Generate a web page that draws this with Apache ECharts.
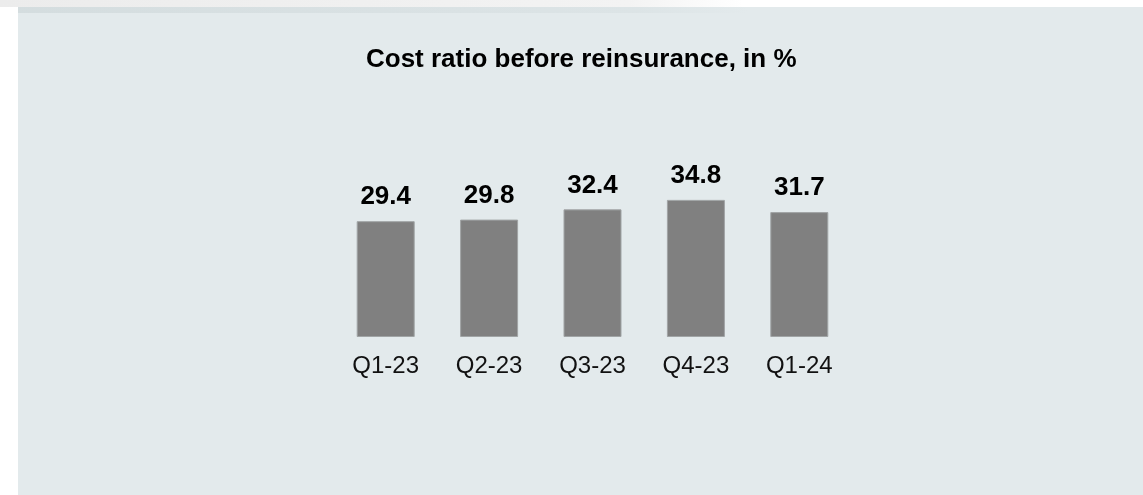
<!DOCTYPE html>
<html>
<head>
<meta charset="utf-8">
<title>Cost ratio before reinsurance</title>
<script src="https://cdn.jsdelivr.net/npm/echarts@6/dist/echarts.min.js"></script>
<style>
  html, body { margin: 0; padding: 0; background: #ffffff; }
  #chart { width: 1143px; height: 495px; }
</style>
</head>
<body>
<div id="chart"></div>
<script>
// Quarterly cost ratio before reinsurance (%)
const quarters = ['Q1-23', 'Q2-23', 'Q3-23', 'Q4-23', 'Q1-24'];
const costRatio = [29.4, 29.8, 32.4, 34.8, 31.7];
const titleText = 'Cost ratio before reinsurance, in %';

const FONT = 'Arial, "Liberation Sans", Helvetica, sans-serif';

const chart = echarts.init(document.getElementById('chart'), null, { renderer: 'canvas' });

chart.setOption({
  backgroundColor: '#ffffff',
  animation: false,
  graphic: [
    // faint shadow strip above the panel
    {
      type: 'rect', z: -10, silent: true,
      shape: { x: 0, y: 0, width: 1143, height: 7 },
      style: {
        fill: new echarts.graphic.LinearGradient(0, 0, 1, 0, [
          { offset: 0, color: '#ececec' },
          { offset: 0.55, color: '#f3f3f3' },
          { offset: 0.65, color: '#ffffff' },
          { offset: 1, color: '#ffffff' }
        ])
      }
    },
    // panel background
    {
      type: 'rect', z: -9, silent: true,
      shape: { x: 18, y: 7, width: 1125, height: 488 },
      style: { fill: '#e3eaec' }
    },
    // soft shading along the panel's top edge
    {
      type: 'rect', z: -8, silent: true,
      shape: { x: 18, y: 7, width: 1125, height: 6 },
      style: {
        fill: new echarts.graphic.LinearGradient(0, 0, 1, 0, [
          { offset: 0, color: 'rgba(200,210,212,0.55)' },
          { offset: 0.55, color: 'rgba(200,210,212,0.25)' },
          { offset: 0.65, color: 'rgba(200,210,212,0)' },
          { offset: 1, color: 'rgba(200,210,212,0)' }
        ])
      }
    }
  ],
  title: {
    text: titleText,
    left: 361,
    top: 42,
    textStyle: {
      fontFamily: FONT,
      fontSize: 26,
      fontWeight: 'bold',
      color: '#000000'
    }
  },
  grid: {
    left: 334,
    right: 292,
    top: 140,
    bottom: 158
  },
  xAxis: {
    type: 'category',
    data: quarters,
    axisLine: { show: false },
    axisTick: { show: false },
    axisLabel: {
      margin: 17,
      fontFamily: FONT,
      fontSize: 24,
      color: '#111111'
    }
  },
  yAxis: {
    type: 'value',
    min: 0,
    max: 50,
    show: false,
    splitLine: { show: false }
  },
  series: [{
    type: 'bar',
    data: costRatio,
    barWidth: 58,
    itemStyle: {
      color: '#808080',
      borderColor: '#a0a4a5',
      borderWidth: 1
    },
    label: {
      show: true,
      position: 'top',
      distance: 11,
      fontFamily: FONT,
      fontSize: 26,
      fontWeight: 'bold',
      color: '#000000',
      formatter: p => p.value.toFixed(1)
    }
  }]
});
</script>
</body>
</html>
